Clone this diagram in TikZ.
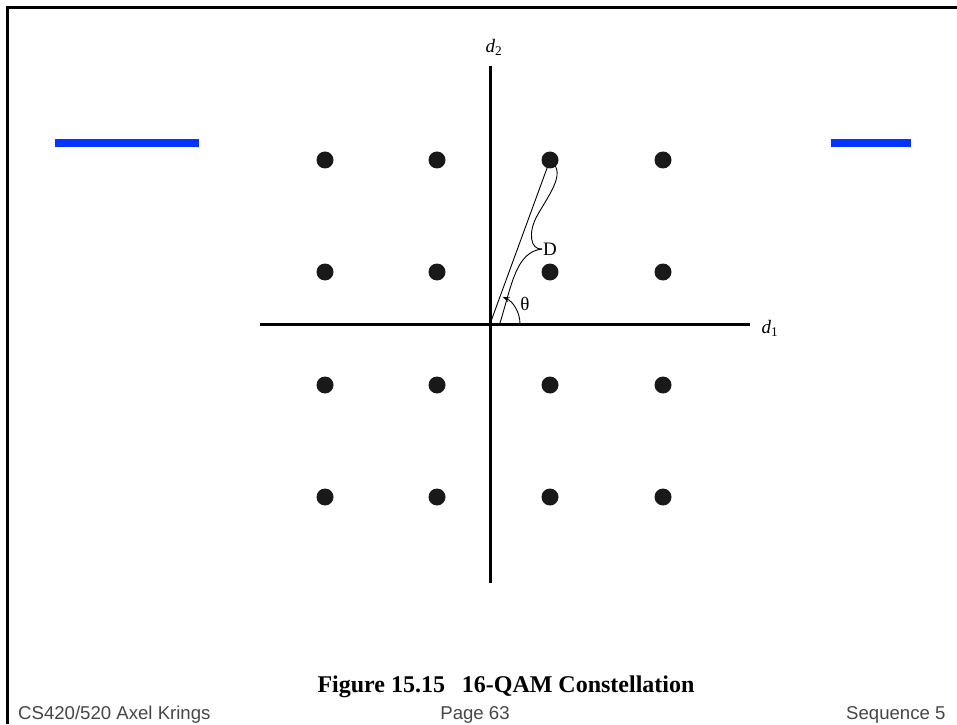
\documentclass[tikz,border=0pt]{standalone}
\usepackage{fontspec}
\setmainfont{Liberation Serif}
\newfontfamily\footfont{Liberation Sans}
\usetikzlibrary{arrows.meta}
\definecolor{barblue}{RGB}{5,51,255}
\definecolor{footgray}{RGB}{70,70,70}
\tikzset{
  qamdot/.style={circle,fill=black!90,inner sep=0pt,minimum size=17pt},
  axisline/.style={line width=3pt},
  thinline/.style={line width=0.9pt},
  bluebar/.style={line width=8pt,barblue},
  footer/.style={font=\footfont\fontsize{18.6}{20}\selectfont,text=footgray,inner sep=0pt},
  lbl/.style={font=\fontsize{19}{21}\selectfont,inner sep=0pt}
}
\begin{document}
\begin{tikzpicture}[x=1pt,y=1pt]
\useasboundingbox (0,0) rectangle (957,724);
% frame
\draw[line width=3pt] (7,0) -- (7,716) -- (957,716);
% blue bars
\draw[bluebar] (55,581) -- (199,581);
\draw[bluebar] (831,581) -- (911,581);
% axes
\coordinate (O) at (490,400);
\coordinate (ytop) at (490,658);
\coordinate (ybot) at (490,141);
\coordinate (xl) at (260,400);
\coordinate (xr) at (750,400);
\draw[axisline] (ybot) -- (ytop);
\draw[axisline] (xl) -- (xr);
\node[lbl] (d2) at (494,677) {\itshape d\textsubscript{\upshape 2}};
\node[lbl] (d1) at (770,396) {\itshape d\textsubscript{\upshape 1}};
% D brace and line
\coordinate (P) at (550,564);
\coordinate (tip) at (542,475);
\draw[thinline] (O) -- (P);
\draw[thinline] (500,401) .. controls (512,440) and (516,472) .. (tip);
\draw[thinline] (tip) .. controls (530,474) and (528,492) .. (537,508) .. controls (548,528) and (566,550) .. (552,562);
\node[lbl,anchor=west] (D) at (543,475) {D};
% angle
\draw[thinline,-{Stealth[length=7pt,width=5pt]}] (520,400) arc[start angle=0,end angle=65,radius=30];
\node[lbl] (theta) at (525,420) {θ};
% dots
\foreach \i/\x in {1/325,2/437,3/550,4/663}{
  \foreach \j/\y in {1/564,2/452,3/339,4/227}{
    \node[qamdot] (p\i\j) at (\x,\y) {};
  }
}
% caption
\node[font=\bfseries\fontsize{24}{26}\selectfont,anchor=base,inner sep=0pt] (cap) at (506,32) {Figure 15.15\hspace{0.7em}16-QAM Constellation};
% footer
\node[footer,anchor=base west] (f1) at (18,5) {CS420/520 Axel Krings};
\node[footer,anchor=base] (f2) at (475,5) {Page 63};
\node[footer,anchor=base west] (f3) at (846,5) {Sequence 5};
\end{tikzpicture}
\end{document}
